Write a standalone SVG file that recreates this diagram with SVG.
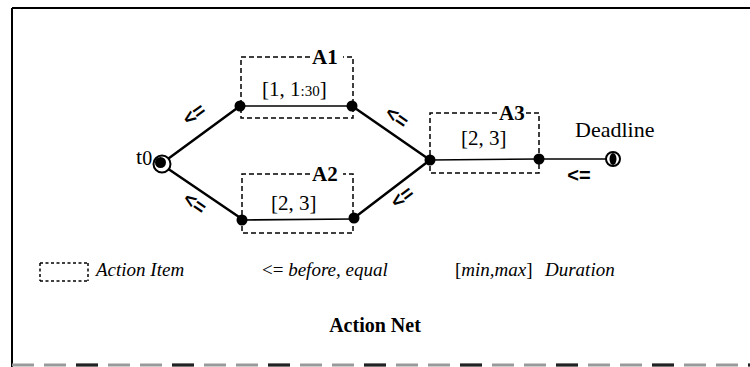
<svg xmlns="http://www.w3.org/2000/svg" width="750" height="367" viewBox="0 0 750 367">
<style>
  text { font-family: "Liberation Serif", "Times New Roman", serif; fill: #000; }
  .edge { stroke: #000; stroke-width: 2.5; fill: none; stroke-linecap: round; }
  .thin { stroke: #000; stroke-width: 1.6; fill: none; }
  .inner { stroke: #000; stroke-width: 1.6; fill: none; }
  .box { stroke: #000; stroke-width: 1.5; fill: none; stroke-dasharray: 5 3; }
  .lbl { font-weight: bold; font-size: 21px; }
  .dur { font-size: 21px; }
  .arr { font-family: "Liberation Sans", Arial, sans-serif; font-size: 20px; font-weight: bold; text-anchor: middle; dominant-baseline: central; }
  .leg { font-style: italic; font-size: 19px; }
  .node { fill: #000; }
</style>
<rect width="750" height="367" fill="#fff"/>
<g id="frame">
  <line x1="12" y1="8" x2="750" y2="8" stroke="#000" stroke-width="2"/>
  <line x1="12" y1="8" x2="12" y2="367" stroke="#000" stroke-width="2"/>
  <line x1="12" y1="365" x2="750" y2="365" stroke="#999" stroke-width="3" stroke-dasharray="22 10"/>
  <line x1="12" y1="365" x2="750" y2="365" stroke="#222" stroke-width="3" stroke-dasharray="22 74" stroke-dashoffset="-64"/>
</g>
<g id="connectors">
  <line class="edge" x1="161" y1="164" x2="240" y2="106"/>
  <line class="edge" x1="161" y1="164" x2="242" y2="219"/>
  <line class="edge" x1="352" y1="106" x2="430" y2="160"/>
  <line class="edge" x1="354" y1="218" x2="430" y2="160"/>
  <line class="thin" x1="539" y1="159" x2="612" y2="159"/>
  <text class="arr" transform="translate(194,114) rotate(-36)">&lt;=</text>
  <text class="arr" transform="translate(195,203) rotate(35)">&lt;=</text>
  <text class="arr" transform="translate(397,117) rotate(35)">&lt;=</text>
  <text class="arr" transform="translate(402,197) rotate(-37)">&lt;=</text>
  <text class="arr" transform="translate(579,175)">&lt;=</text>
</g>
<g id="t0">
  <circle cx="162" cy="164" r="8.5" fill="#fff" stroke="#000" stroke-width="2"/>
  <circle cx="160.5" cy="162.5" r="5.5" class="node"/>
  <text x="136" y="164" font-size="22">t<tspan font-size="20" dy="1">0</tspan></text>
</g>
<g id="A1">
  <path class="box" d="M310 57 H241 V118 H353 V57 H343"/>
  <text class="lbl" x="312" y="64">A1</text>
  <text class="dur" x="262" y="96">[1, 1<tspan font-size="15">:30</tspan>]</text>
  <line class="inner" x1="240" y1="106" x2="352" y2="106"/>
  <circle cx="240" cy="106" r="5.5" class="node"/>
  <circle cx="352" cy="106" r="5.5" class="node"/>
</g>
<g id="A2">
  <path class="box" d="M310 174 H242 V233 H353 V174 H343"/>
  <text class="lbl" x="312" y="181">A2</text>
  <text class="dur" x="271" y="210">[2, 3]</text>
  <line class="inner" x1="242" y1="220" x2="354" y2="219"/>
  <circle cx="242" cy="220" r="5.5" class="node"/>
  <circle cx="354" cy="218" r="5.5" class="node"/>
</g>
<g id="A3">
  <path class="box" d="M497 113 H430 V173 H539 V113 H526"/>
  <text class="lbl" x="499" y="120">A3</text>
  <text class="dur" x="461" y="145">[2, 3]</text>
  <line class="inner" x1="430" y1="160" x2="539" y2="159"/>
  <circle cx="430" cy="160" r="5.5" class="node"/>
  <circle cx="539" cy="159" r="5.5" class="node"/>
</g>
<g id="deadline">
  <circle cx="613" cy="159" r="7" fill="#fff" stroke="#000" stroke-width="2"/>
  <ellipse cx="613" cy="159" rx="3.5" ry="6" class="node"/>
  <text x="575" y="137" font-size="22">Deadline</text>
</g>
<g id="legend">
  <path d="M40 263 H88 M40 281 H88 M40 263 V281 M88 263 V281" stroke="#000" stroke-width="1.5" fill="none" stroke-dasharray="3 2.5"/>
  <text class="leg" x="96" y="276">Action Item</text>
  <text class="leg" x="262" y="276"><tspan font-style="normal">&lt;=</tspan> before, equal</text>
  <text x="455" y="276" font-size="19">[<tspan font-style="italic">min,max</tspan>]<tspan x="545" font-style="italic">Duration</tspan></text>
</g>
<g id="title">
  <text x="375" y="332" font-size="20" font-weight="bold" text-anchor="middle">Action Net</text>
</g>
</svg>
